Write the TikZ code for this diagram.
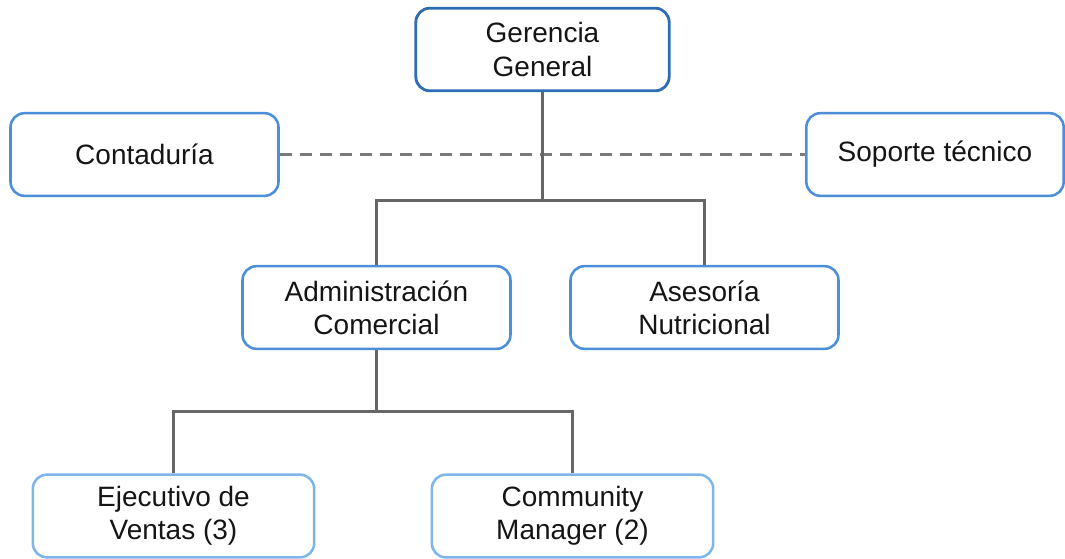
\documentclass[tikz,border=0pt]{standalone}
\usepackage{fontspec}
\setmainfont{Liberation Sans}
\definecolor{bdark}{HTML}{2F6DB3}
\definecolor{bmid}{HTML}{4A8FD8}
\definecolor{blight}{HTML}{7EB6EC}
\definecolor{conncol}{HTML}{666666}
\definecolor{dashcol}{HTML}{7A7A7A}
\definecolor{txt}{HTML}{151515}
\begin{document}
\begin{tikzpicture}[x=0.75pt,y=-0.75pt,
  box/.style={draw=bmid,line width=1.9pt,rounded corners=10.5pt,fill=white,
    align=center,text=txt,inner sep=0pt,font=\fontsize{21}{25}\selectfont,
    minimum height=62pt},
  topbox/.style={box,draw=bdark,line width=2.1pt},
  lowbox/.style={box,draw=blight},
  conn/.style={draw=conncol,line width=2.2pt},
  dashconn/.style={draw=dashcol,line width=1.7pt,dash pattern=on 9pt off 6pt}]
\useasboundingbox (0,0) rectangle (1065,558);
\coordinate (j1) at (542.5,200.5);
\coordinate (j2) at (376.5,411.5);
\node[box,minimum width=201pt] (cont) at (144.5,154.5) {Contaduría};
\node[box,minimum width=193pt] (sop) at (935,154.5) {Soporte técnico};
\draw[dashconn] (cont.east) -- (sop.west);
\node[topbox,minimum width=190pt] (gg) at (542.5,49.5) {Gerencia\\General};
\node[box,minimum width=201pt] (adm) at (376.5,307.5) {Administración\\Comercial};
\node[box,minimum width=201pt] (ase) at (704.5,307.5) {Asesoría\\Nutricional};
\node[lowbox,minimum width=211pt] (eje) at (173.5,516) {Ejecutivo de\\Ventas (3)};
\node[lowbox,minimum width=211pt] (com) at (572.5,516) {Community\\Manager (2)};
\draw[conn] (gg.south) -- (j1);
\draw[conn] (adm.north) |- (j1) -| (ase.north);
\draw[conn] (adm.south) -- (j2);
\draw[conn] (eje.north) |- (j2) -| (com.north);
\end{tikzpicture}
\end{document}
